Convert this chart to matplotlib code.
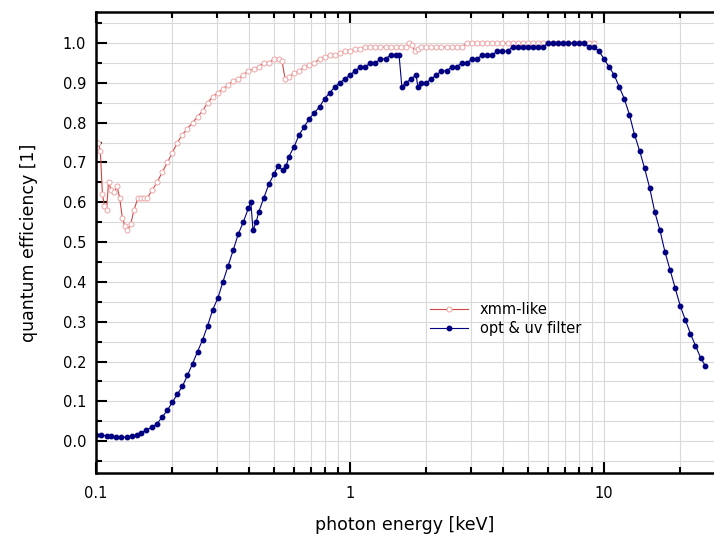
import matplotlib
matplotlib.use('Agg')
import matplotlib.pyplot as plt
from matplotlib.ticker import MultipleLocator, LogLocator, NullFormatter, FormatStrFormatter

# xmm-like filter curve
energy_xmm = [0.100, 0.102, 0.104, 0.106, 0.108, 0.110, 0.112, 0.115, 0.118, 0.121,
              0.124, 0.127, 0.130, 0.133, 0.137, 0.141, 0.146, 0.151, 0.155, 0.159,
              0.166, 0.174, 0.182, 0.191, 0.200, 0.209, 0.219, 0.229, 0.240, 0.251,
              0.263, 0.275, 0.288, 0.302, 0.316, 0.331, 0.347, 0.363, 0.380, 0.398,
              0.417, 0.437, 0.457, 0.479, 0.501, 0.525, 0.540, 0.555, 0.575, 0.603,
              0.631, 0.661, 0.692, 0.724, 0.759, 0.794, 0.832, 0.871, 0.912, 0.955,
              1.000, 1.047, 1.096, 1.148, 1.202, 1.259, 1.318, 1.380, 1.445, 1.514,
              1.585, 1.660, 1.700, 1.750, 1.800, 1.850, 1.905, 1.995, 2.089, 2.188,
              2.291, 2.399, 2.512, 2.630, 2.754, 2.884, 3.020, 3.162, 3.311, 3.467,
              3.631, 3.802, 3.981, 4.169, 4.365, 4.571, 4.786, 5.012, 5.248, 5.495,
              5.754, 6.026, 6.310, 6.607, 6.918, 7.244, 7.586, 7.943, 8.318, 8.710,
              9.120]
qe_xmm = [0.75, 0.75, 0.73, 0.62, 0.59, 0.58, 0.65, 0.63, 0.625, 0.64,
          0.61, 0.56, 0.54, 0.53, 0.545, 0.58, 0.61, 0.61, 0.61, 0.61,
          0.63, 0.65, 0.675, 0.70, 0.725, 0.75, 0.77, 0.785, 0.80, 0.815,
          0.83, 0.85, 0.865, 0.875, 0.885, 0.895, 0.905, 0.91, 0.92, 0.93,
          0.935, 0.94, 0.95, 0.95, 0.96, 0.96, 0.955, 0.91, 0.915, 0.925,
          0.93, 0.94, 0.945, 0.95, 0.96, 0.965, 0.97, 0.97, 0.975, 0.98,
          0.98, 0.985, 0.985, 0.99, 0.99, 0.99, 0.99, 0.99, 0.99, 0.99,
          0.99, 0.99, 1.00, 0.995, 0.98, 0.985, 0.99, 0.99, 0.99, 0.99,
          0.99, 0.99, 0.99, 0.99, 0.99, 1.00, 1.00, 1.00, 1.00, 1.00,
          1.00, 1.00, 1.00, 1.00, 1.00, 1.00, 1.00, 1.00, 1.00, 1.00,
          1.00, 1.00, 1.00, 1.00, 1.00, 1.00, 1.00, 1.00, 1.00, 1.00,
          1.00]

# optical & uv filter curve
energy_opt = [0.100, 0.105, 0.110, 0.115, 0.120, 0.126, 0.132, 0.138, 0.145, 0.151,
              0.158, 0.166, 0.174, 0.182, 0.191, 0.200, 0.209, 0.219, 0.229, 0.240,
              0.251, 0.263, 0.275, 0.288, 0.302, 0.316, 0.331, 0.347, 0.363, 0.380,
              0.398, 0.407, 0.415, 0.427, 0.437, 0.457, 0.479, 0.501, 0.520, 0.545,
              0.560, 0.575, 0.603, 0.631, 0.661, 0.692, 0.724, 0.759, 0.794, 0.832,
              0.871, 0.912, 0.955, 1.000, 1.047, 1.096, 1.148, 1.202, 1.259, 1.318,
              1.380, 1.445, 1.514, 1.560, 1.600, 1.660, 1.738, 1.820, 1.850, 1.905,
              1.995, 2.089, 2.188, 2.291, 2.399, 2.512, 2.630, 2.754, 2.884, 3.020,
              3.162, 3.311, 3.467, 3.631, 3.802, 3.981, 4.169, 4.365, 4.571, 4.786,
              5.012, 5.248, 5.495, 5.754, 6.026, 6.310, 6.607, 6.918, 7.244, 7.586,
              7.943, 8.318, 8.710, 9.120, 9.550, 10.00, 10.47, 10.96, 11.48, 12.02,
              12.59, 13.18, 13.80, 14.45, 15.14, 15.85, 16.60, 17.38, 18.20, 19.05,
              19.95, 20.89, 21.88, 22.91, 23.99, 25.00]
qe_opt = [0.016, 0.015, 0.014, 0.013, 0.011, 0.010, 0.010, 0.012, 0.016, 0.021,
          0.028, 0.035, 0.044, 0.060, 0.078, 0.098, 0.118, 0.138, 0.165, 0.195,
          0.225, 0.255, 0.29, 0.33, 0.36, 0.40, 0.44, 0.48, 0.52, 0.55,
          0.585, 0.60, 0.53, 0.55, 0.575, 0.61, 0.645, 0.67, 0.69, 0.68,
          0.69, 0.715, 0.74, 0.77, 0.79, 0.81, 0.825, 0.84, 0.86, 0.875,
          0.89, 0.90, 0.91, 0.92, 0.93, 0.94, 0.94, 0.95, 0.95, 0.96,
          0.96, 0.97, 0.97, 0.97, 0.89, 0.90, 0.91, 0.92, 0.89, 0.90,
          0.90, 0.91, 0.92, 0.93, 0.93, 0.94, 0.94, 0.95, 0.95, 0.96,
          0.96, 0.97, 0.97, 0.97, 0.98, 0.98, 0.98, 0.99, 0.99, 0.99,
          0.99, 0.99, 0.99, 0.99, 1.00, 1.00, 1.00, 1.00, 1.00, 1.00,
          1.00, 1.00, 0.99, 0.99, 0.98, 0.96, 0.94, 0.92, 0.89, 0.86,
          0.82, 0.77, 0.73, 0.685, 0.635, 0.575, 0.53, 0.475, 0.43, 0.385,
          0.34, 0.305, 0.27, 0.24, 0.21, 0.19]

fig = plt.figure(figsize=(7.14, 5.34), dpi=100)
ax = fig.add_axes([96 / 714, 1 - 473 / 534, 1 - 96 / 714, (473 - 12) / 534])

ax.plot(energy_xmm, qe_xmm, '-o', color='#d04848', lw=0.8, ms=3.6,
        mfc='white', mec='#eea5a5', mew=0.7, label='xmm-like')
ax.plot(energy_opt, qe_opt, '-o', color='#000080', lw=0.8, ms=3.2,
        mec='#000080', label='opt & uv filter')

ax.set_xscale('log')
ax.set_xlim(0.1, 27.1)
ax.set_ylim(-0.08, 1.078)

ax.set_xticks([0.1, 1, 10])
ax.set_xticklabels(['0.1', '1', '10'])
ax.xaxis.set_minor_locator(LogLocator(base=10, subs=[2, 3, 4, 5, 6, 7, 8, 9]))
ax.xaxis.set_minor_formatter(NullFormatter())
ax.yaxis.set_major_locator(MultipleLocator(0.1))
ax.yaxis.set_minor_locator(MultipleLocator(0.05))
ax.yaxis.set_major_formatter(FormatStrFormatter('%.1f'))

ax.grid(True, which='both', color='#d9d9d9', lw=0.8)
ax.set_axisbelow(True)

for s in ['left', 'bottom', 'top']:
    ax.spines[s].set_linewidth(1.8)
ax.spines['right'].set_visible(False)

ax.tick_params(which='both', direction='in', top=True, right=False, width=1.5,
               labelsize=10.5, colors='black')
ax.tick_params(which='major', length=8)
ax.tick_params(which='minor', length=4.5)
ax.tick_params(axis='x', pad=9)
ax.tick_params(axis='y', pad=7)

ax.set_xlabel('photon energy [keV]', fontsize=12.5, labelpad=11)
ax.set_ylabel('quantum efficiency [1]', fontsize=12.5, labelpad=18)

ax.legend(loc='upper left', bbox_to_anchor=(0.52, 0.40), frameon=False,
          fontsize=10.5, handlelength=2.6, labelspacing=0.3)

fig.savefig('out.png', dpi=100)
